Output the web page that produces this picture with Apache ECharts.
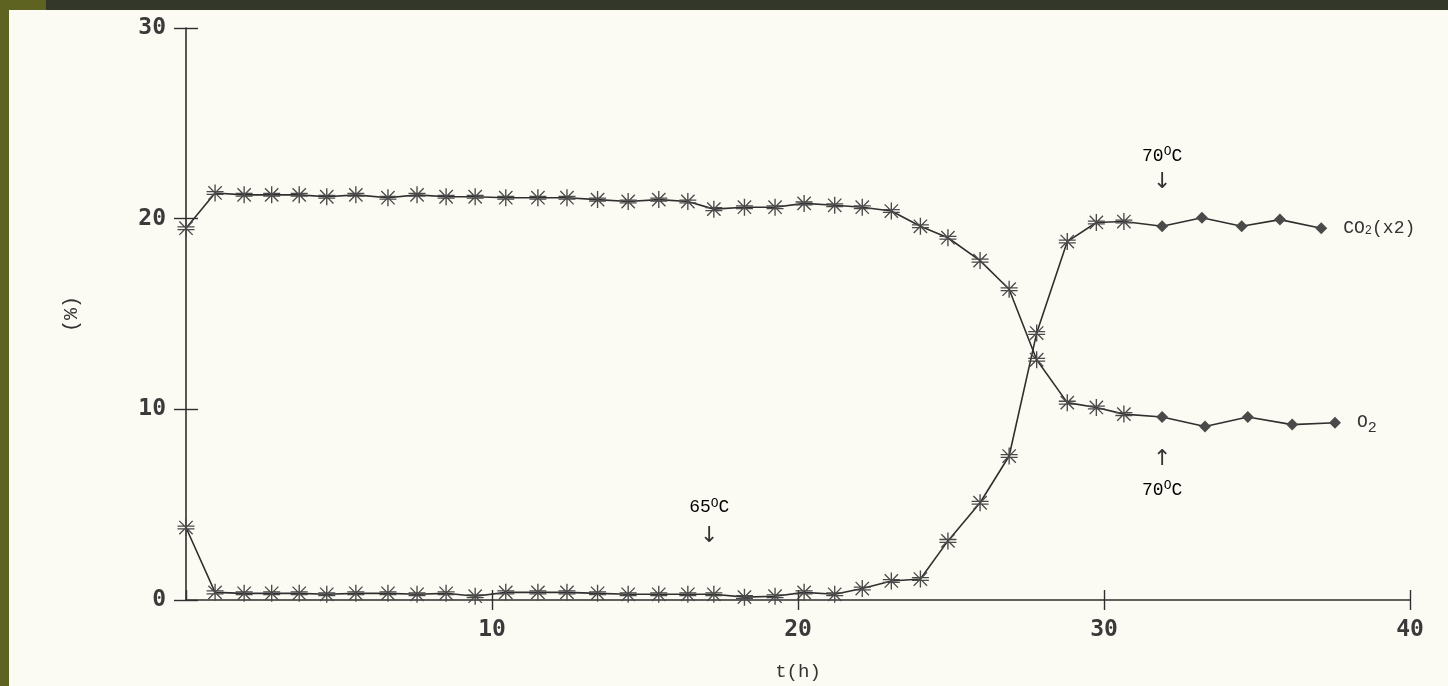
<!DOCTYPE html>
<html>
<head>
<meta charset="utf-8">
<script src="https://cdn.jsdelivr.net/npm/echarts@6/dist/echarts.min.js"></script>
<style>
html,body{margin:0;padding:0;background:#fcfbf3;}
#chart{width:1448px;height:686px;}
</style>
</head>
<body>
<div id="chart"></div>
<script>
// ---- data ----
const hoursO2  = [0,0.95,1.9,2.8,3.7,4.6,5.55,6.6,7.55,8.5,9.45,10.45,11.5,12.45,13.45,14.45,15.45,16.4,17.25,18.25,19.25,20.2,21.2,22.1,23.05,24.0,24.9,25.95,26.9,27.8,28.8,29.75,30.65,31.9,33.3,34.7,36.15,37.55];
const o2Values = [19.5,21.35,21.25,21.25,21.25,21.15,21.25,21.1,21.25,21.15,21.15,21.1,21.1,21.1,21.0,20.9,21.0,20.9,20.5,20.6,20.6,20.8,20.7,20.6,20.4,19.6,19.0,17.8,16.3,12.6,10.35,10.1,9.75,9.6,9.1,9.6,9.2,9.3];
const hoursCO2  = [0,0.95,1.9,2.8,3.7,4.6,5.55,6.6,7.55,8.5,9.45,10.45,11.5,12.45,13.45,14.45,15.45,16.4,17.25,18.25,19.25,20.2,21.2,22.1,23.05,24.0,24.9,25.95,26.9,27.8,28.8,29.75,30.65,31.9,33.2,34.5,35.75,37.1];
const co2Values = [3.8,0.4,0.35,0.35,0.35,0.3,0.35,0.35,0.3,0.35,0.2,0.4,0.4,0.4,0.35,0.3,0.3,0.3,0.3,0.15,0.2,0.4,0.3,0.6,1.0,1.1,3.1,5.1,7.55,14.0,18.8,19.8,19.85,19.6,20.05,19.6,19.95,19.5];
const xTicks = [0,10,20,30,40];
const yTicks = [0,10,20,30];
const seriesLabels = ['{n|O}{s|2}', '{n|CO}{t|2}{n|(x2)}'];
const diamondFrom = 33; // index from which the 70°C points use the diamond mark
// temperature annotations: label, hour, label level (%), arrow, arrow level (%)
const notes = [
  {label:'65', t:17.1, y:4.9, arrow:'↓', ay:3.35},
  {label:'70', t:31.9, y:23.35, arrow:'↓', ay:21.9},
  {label:'70', t:31.9, y:5.8, arrow:'↑', ay:7.4}
];

const INK = '#2f2f2f';
const asterisk = 'path://M9.2,0h1.6v20h-1.6z M0,7.6h20v1.5h-20z M0,10.9h20v1.5h-20z M1.6,2.7l1.1,-1.1l15.7,15.7l-1.1,1.1z M17.3,1.6l1.1,1.1l-15.7,15.7l-1.1,-1.1z';
const symFn = (v, p) => p.dataIndex >= diamondFrom ? 'diamond' : asterisk;
const sizeFn = (v, p) => p.dataIndex >= diamondFrom ? 12 : 17;

const chart = echarts.init(document.getElementById('chart'));
const axisFont = {fontFamily:'DejaVu Sans Mono', fontWeight:'bold', fontSize:23, color:'#3a3a3a'};

function mkSeries(name, label, xs, ys) {
  return {
    name: name, type: 'line',
    data: xs.map((x, i) => [x, ys[i]]),
    symbol: symFn, symbolSize: sizeFn,
    lineStyle: {color: INK, width: 1.6},
    itemStyle: {color: '#4a4a4a'},
    endLabel: {show: true, formatter: label, distance: 22,
      rich: {
        n: {fontFamily: 'Liberation Mono', fontSize: 18, color: '#333', lineHeight: 22},
        s: {fontFamily: 'Liberation Mono', fontSize: 15, color: '#333', lineHeight: 22, padding: [10,0,0,0]},
        t: {fontFamily: 'Liberation Mono', fontSize: 12, color: '#333', lineHeight: 22, padding: [6,0,0,0]}
      }},
    z: 3, animation: false
  };
}

const option = {
  backgroundColor: '#fcfbf3',
  animation: false,
  grid: {left: 186, right: 38, top: 28, bottom: 77},
  xAxis: [{
    type: 'value', min: 0, max: 40, interval: 10,
    name: 't(h)', nameLocation: 'middle', nameGap: 62,
    nameTextStyle: {fontFamily: 'Liberation Mono', fontSize: 19, color: '#333'},
    axisLine: {lineStyle: {color: INK, width: 1.6}},
    axisTick: {length: 10, lineStyle: {color: INK, width: 1.4}},
    axisLabel: Object.assign({margin: 19, showMinLabel: false}, axisFont),
    splitLine: {show: false}
  }, {
    type: 'value', min: 0, max: 40, interval: 10, position: 'bottom',
    axisLine: {show: false}, axisLabel: {show: false}, splitLine: {show: false},
    axisTick: {inside: true, length: 10, lineStyle: {color: INK, width: 1.4}}
  }],
  yAxis: [{
    type: 'value', min: 0, max: 30, interval: 10,
    name: '(%)', nameLocation: 'middle', nameGap: 104,
    nameTextStyle: {fontFamily: 'Liberation Mono', fontSize: 20, color: '#333'},
    axisLine: {show: true, lineStyle: {color: INK, width: 1.6}},
    axisTick: {show: true, length: 12, lineStyle: {color: INK, width: 1.4}},
    axisLabel: Object.assign({margin: 20}, axisFont),
    splitLine: {show: false}
  }, {
    type: 'value', min: 0, max: 30, interval: 10, position: 'left',
    axisLine: {show: false}, axisLabel: {show: false}, splitLine: {show: false},
    axisTick: {show: true, inside: true, length: 12, lineStyle: {color: INK, width: 1.4}}
  }],
  series: [
    mkSeries('O2', seriesLabels[0], hoursO2, o2Values),
    mkSeries('CO2(x2)', seriesLabels[1], hoursCO2, co2Values)
  ]
};
chart.setOption(option);

// scan border decoration + temperature annotations
const g = [
  {type: 'rect', shape: {x: 0, y: 0, width: 9, height: 686}, style: {fill: '#5f6322'}, z: 10},
  {type: 'rect', shape: {x: 0, y: 0, width: 46, height: 10}, style: {fill: '#5f6322'}, z: 10},
  {type: 'rect', shape: {x: 46, y: 0, width: 1402, height: 10}, style: {fill: '#33372a'}, z: 10}
];
notes.forEach(n => {
  const p = chart.convertToPixel({gridIndex: 0}, [n.t, n.y]);
  const a = chart.convertToPixel({gridIndex: 0}, [n.t, n.ay]);
  g.push({type: 'text', x: p[0], y: p[1], z: 5, style: {
    text: '{n|' + n.label + '}{s|O}{n|C}', align: 'center', verticalAlign: 'middle',
    rich: {n: {fontFamily: 'Liberation Mono', fontSize: 18, color: '#333', lineHeight: 20, verticalAlign: 'bottom'},
           s: {fontFamily: 'Liberation Mono', fontSize: 13, color: '#333', lineHeight: 20, verticalAlign: 'top', padding: [0,0,8,0]}}
  }});
  g.push({type: 'text', x: a[0], y: a[1], z: 5, style: {
    text: n.arrow, align: 'center', verticalAlign: 'middle',
    fontFamily: 'DejaVu Sans', fontSize: 22, fill: '#333'
  }});
});
chart.setOption({graphic: g});
</script>
</body>
</html>
